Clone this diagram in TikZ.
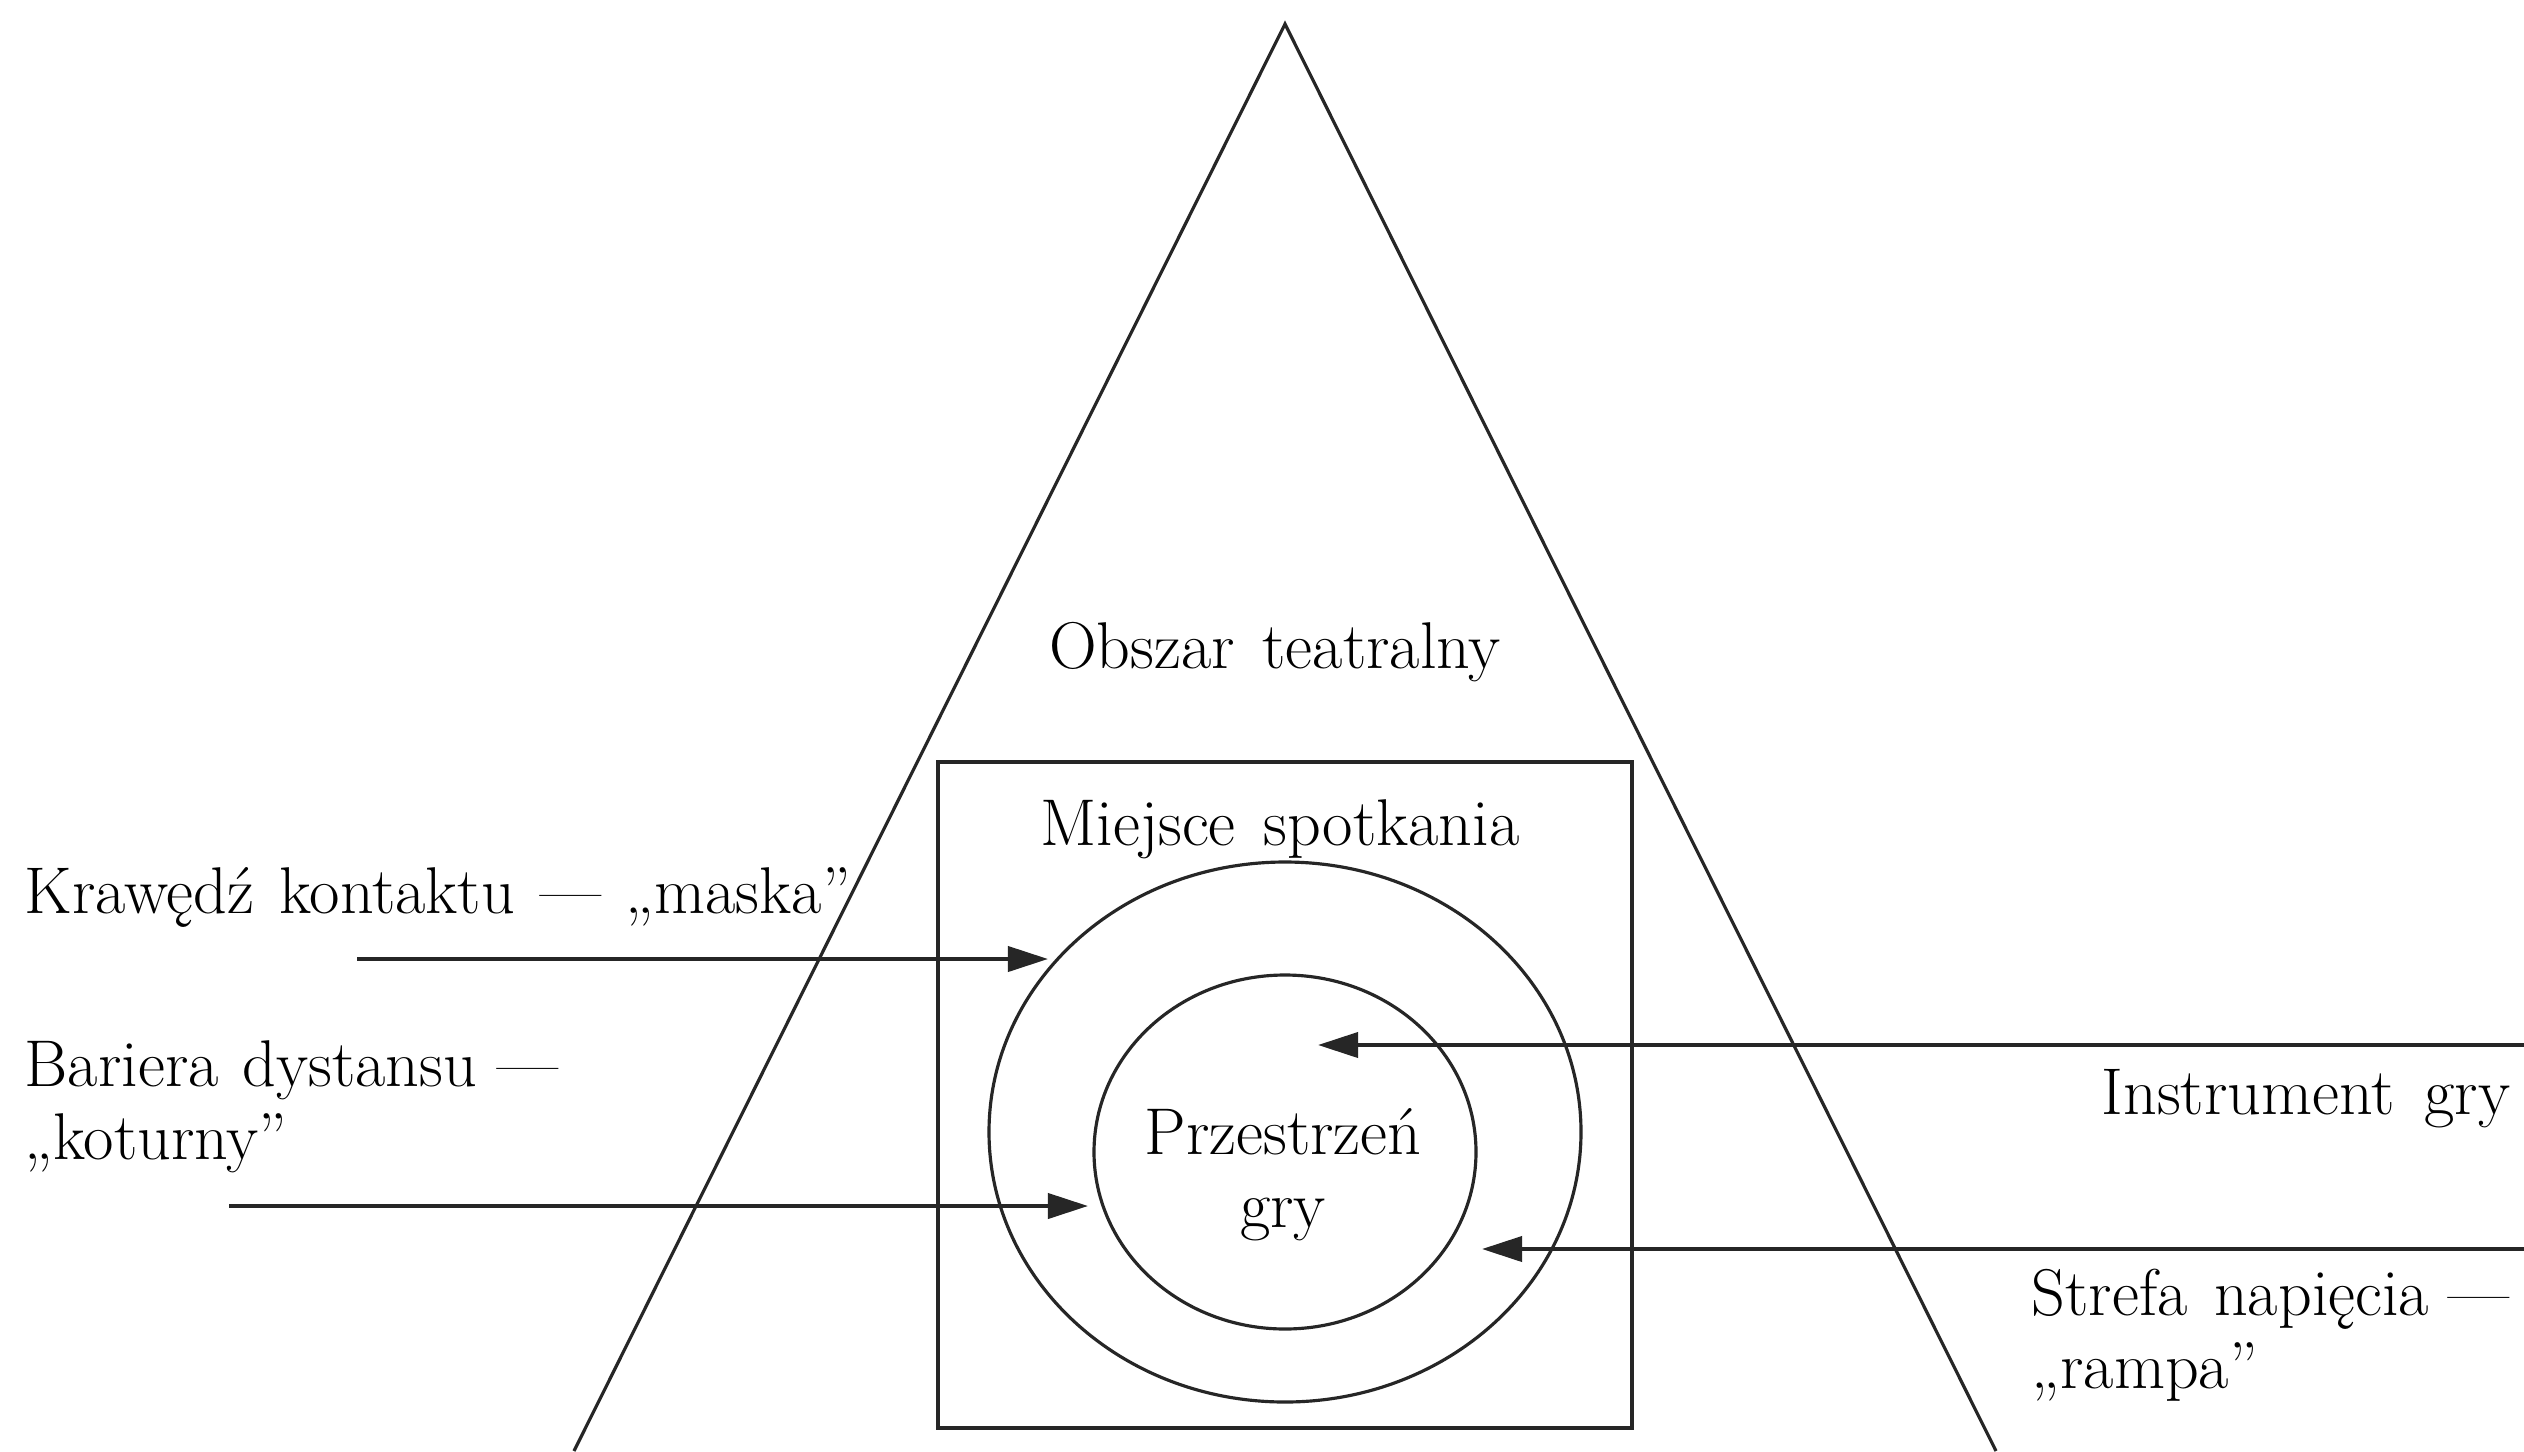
\documentclass[tikz,border=0pt]{standalone}
\usetikzlibrary{arrows.meta}
\begin{document}
\begin{tikzpicture}[x=0.01cm,y=-0.01cm,
  shapeline/.style={line width=0.9pt,draw=black!85},
  pointer/.style={line width=1.1pt,draw=black!85,-{Triangle[length=0.4cm,width=0.25cm]}},
  lbl/.style={inner sep=0pt,font=\fontsize{18.8}{20.5}\selectfont,align=left},
  lblc/.style={inner sep=0pt,font=\fontsize{18.8}{20.5}\selectfont,align=center}]
\useasboundingbox (0,0) rectangle (2524,1451);
\fill[white] (0,0) rectangle (2524,1451);
% triangle
\coordinate (tl) at (574,1451);
\coordinate (ta) at (1285,24);
\coordinate (tr) at (1996,1451);
\draw[shapeline] (tl) -- (ta) -- (tr);
% rectangle
\draw[shapeline] (938,762) rectangle (1632,1428);
% ellipses
\draw[shapeline] (1285,1132) ellipse [x radius=296, y radius=270];
\draw[shapeline] (1285,1152) ellipse [x radius=191, y radius=177];
% labels
\node[lblc,anchor=base] (obszar) at (1275,668) {Obszar\hspace{0.42em}teatralny};
\node[lblc,anchor=base] (miejsce) at (1280,845) {Miejsce\hspace{0.42em}spotkania};
\node[lblc,anchor=base] (przestrzen) at (1283,1227) {Przestrzeń\\gry};
\node[lbl,anchor=base west] (krawedz) at (24,913) {Krawędź\hspace{0.38em}kontaktu\hspace{0.38em}—\hspace{0.38em}„maska”};
\node[lbl,anchor=base west] (bariera) at (24,1159) {Bariera\hspace{0.36em}dystansu\hspace{0.3em}—\\„koturny”};
\node[lbl,anchor=base east] (instrument) at (2511,1114) {Instrument\hspace{0.45em}gry};
\node[lbl,anchor=base west] (strefa) at (2031,1388) {Strefa\hspace{0.4em}napięcia\hspace{0.3em}—\\„rampa”};
% arrows
\coordinate (a1s) at (357,959);  \coordinate (a1e) at (1048,959);
\coordinate (a2s) at (229,1206); \coordinate (a2e) at (1088,1206);
\coordinate (a3s) at (2524,1045); \coordinate (a3e) at (1318,1045);
\coordinate (a4s) at (2524,1249); \coordinate (a4e) at (1482,1249);
\draw[pointer] (a1s) -- (a1e);
\draw[pointer] (a2s) -- (a2e);
\draw[pointer] (a3s) -- (a3e);
\draw[pointer] (a4s) -- (a4e);
\end{tikzpicture}
\end{document}
